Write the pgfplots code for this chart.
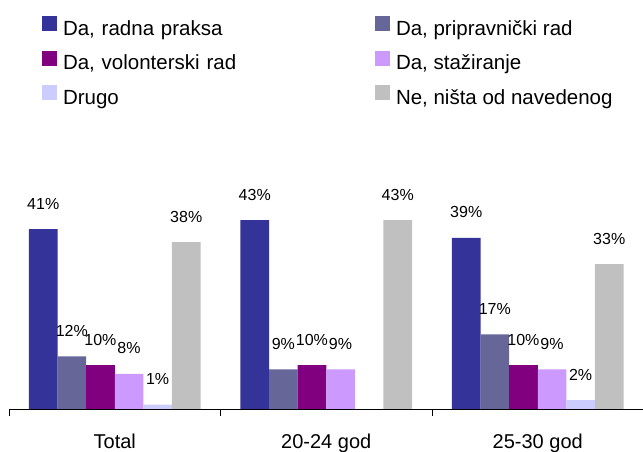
\documentclass[border=0pt]{standalone}
\usepackage{fontspec}
\setmainfont{Liberation Sans}
\usepackage{pgfplots}
\pgfplotsset{compat=1.18}
\definecolor{cA}{HTML}{333399}
\definecolor{cB}{HTML}{666699}
\definecolor{cC}{HTML}{800080}
\definecolor{cD}{HTML}{CC99FF}
\definecolor{cE}{HTML}{CCCCFF}
\definecolor{cF}{HTML}{C0C0C0}

\begin{document}
\begin{tikzpicture}
\useasboundingbox (0,0) rectangle (643pt,452pt);
\begin{axis}[
  at={(9pt,43pt)}, anchor=south west,
  scale only axis,
  width=634.5pt, height=219.5pt,
  xmin=-0.5, xmax=2.5, ymin=0, ymax=50,
  ybar=0pt, bar width=28.6pt,
  axis x line*=bottom, axis y line=none,
  axis line style={black, line width=0.8pt},
  xtick={0,1,2},
  xticklabels={Total,20-24 god,25-30 god},
  major tick length=0pt,
  xticklabel style={font=\fontsize{20}{24}\selectfont, anchor=base, yshift=-40pt},
  extra x ticks={-0.5,0.5,1.5,2.5},
  extra x tick labels={},
  extra x tick style={major tick length=7pt, tick align=outside,
    tick style={black, line width=0.8pt}},
  /pgf/number format/assume math mode=true,
  nodes near coords={\pgfmathprintnumber{\pgfplotspointmeta}\%},
  nodes near coords style={font=\fontsize{16}{19}\selectfont, anchor=base, yshift=20pt},
  clip=false,
  legend columns=2,
  legend cell align=left,
  legend image code/.code={\fill[#1] (0pt,-1pt) rectangle (15pt,14pt);},
  legend style={draw=none, fill=none, at={(0.047,1.80)}, anchor=north west,
    font=\fontsize{20.5}{24}\selectfont,
    nodes={inner sep=0pt, text height=15pt, text depth=5pt},
    row sep=10.5pt,
    /tikz/column 2/.style={text width=312pt},
    /tikz/every odd column/.style={column sep=6pt}},
]
\addplot[fill=cA, draw=none] coordinates {(0,41) (1,43) (2,39)};
\addplot[fill=cB, draw=none] coordinates {(0,12) (1,9) (2,17)};
\addplot[fill=cC, draw=none] coordinates {(0,10) (1,10) (2,10)};
\addplot[fill=cD, draw=none] coordinates {(0,8) (1,9) (2,9)};
\addplot[fill=cE, draw=none] coordinates {(0,1) (2,2)};
\addplot[fill=cF, draw=none] coordinates {(0,38) (1,43) (2,33)};
\legend{{Da, radna praksa}, {Da, pripravnički rad},
  {Da, volonterski rad}, {Da, stažiranje},
  Drugo, {Ne, ništa od navedenog}}
\end{axis}
\end{tikzpicture}
\end{document}
